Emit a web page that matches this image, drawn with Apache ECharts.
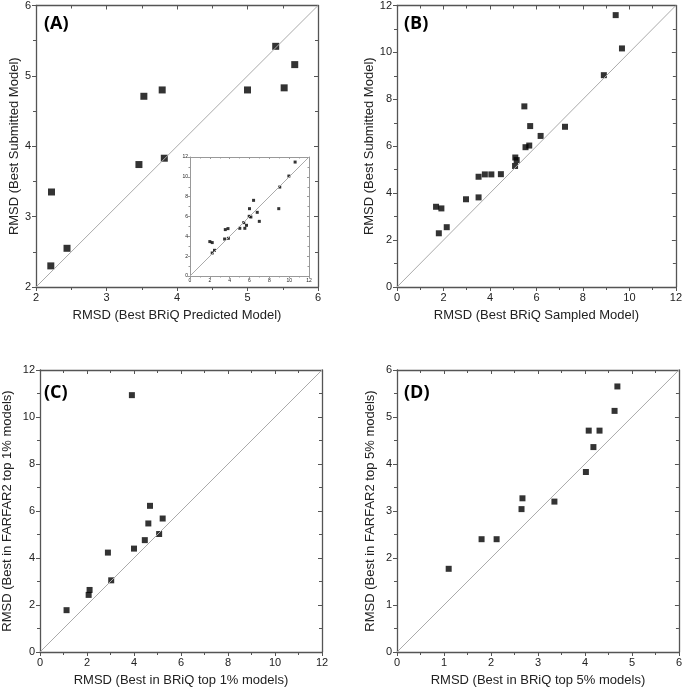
<!DOCTYPE html>
<html>
<head>
<meta charset="utf-8">
<script src="https://cdn.jsdelivr.net/npm/echarts@6/dist/echarts.min.js"></script>
<style>
  html, body { margin: 0; padding: 0; background: #fff; }
  #chart { width: 685px; height: 688px; }
</style>
</head>
<body>
<div id="chart"></div>
<script>
// (A) BRiQ predicted vs best submitted
const aX = [2.21, 2.22, 2.44, 3.46, 3.53, 3.79, 3.82, 5.00, 5.40, 5.52, 5.67];
const aY = [2.30, 3.35, 2.55, 3.74, 4.71, 4.80, 3.83, 4.80, 5.42, 4.83, 5.16];

// inset of (A), full range
const insetX = [10.6, 9.97, 9.05, 8.95, 6.41, 6.0, 5.97, 6.14, 6.78, 6.99, 5.42, 5.7, 5.53, 5.02, 3.56, 3.83, 3.49, 3.87, 2.0, 2.24, 2.47, 2.24];
const insetY = [11.49, 10.08, 8.97, 6.79, 7.63, 6.79, 6.02, 5.95, 6.42, 5.51, 5.38, 5.11, 4.81, 4.81, 4.68, 4.78, 3.73, 3.80, 3.47, 3.37, 2.59, 2.32];

// (B) BRiQ sampled vs best submitted
const bX = [1.68, 1.91, 1.80, 2.14, 2.97, 3.51, 3.51, 3.78, 4.06, 4.47, 5.08, 5.09, 5.15, 5.48, 5.53, 5.69, 5.73, 6.18, 7.23, 8.90, 9.41, 9.68];
const bY = [3.42, 3.35, 2.29, 2.55, 3.74, 3.82, 4.70, 4.80, 4.80, 4.81, 5.16, 5.52, 5.41, 7.70, 5.96, 6.03, 6.86, 6.44, 6.83, 9.03, 11.59, 10.17];

// (C) top 1% models
const cX = [1.13, 2.07, 2.11, 2.89, 3.03, 3.91, 4.00, 4.46, 4.61, 4.68, 5.07, 5.22];
const cY = [1.78, 2.43, 2.64, 4.23, 3.05, 10.93, 4.40, 4.76, 5.47, 6.22, 5.02, 5.68];

// (D) top 5% models
const dX = [1.10, 1.80, 2.12, 2.65, 2.67, 3.35, 4.02, 4.08, 4.18, 4.31, 4.63, 4.69];
const dY = [1.77, 2.40, 2.40, 3.04, 3.27, 3.20, 3.83, 4.71, 4.36, 4.71, 5.13, 5.65];

const panelLabels = ['(A)', '(B)', '(C)', '(D)'];
const xNames = ['RMSD (Best BRiQ Predicted Model)', 'RMSD (Best BRiQ Sampled Model)',
  'RMSD (Best in BRiQ top 1% models)', 'RMSD (Best in BRiQ top 5% models)'];
const yNames = ['RMSD (Best Submitted Model)', 'RMSD (Best Submitted Model)',
  'RMSD (Best in FARFAR2 top 1% models)', 'RMSD (Best in FARFAR2 top 5% models)'];
const ranges = [[2, 6, 1], [0, 12, 2], [0, 12, 2], [0, 6, 1], [0, 12, 2]];

const zip = (xs, ys) => xs.map((x, i) => [x, ys[i]]);
const pointSets = [zip(aX, aY), zip(bX, bY), zip(cX, cY), zip(dX, dY), zip(insetX, insetY)];

const grids = [
  { left: 36, top: 4, width: 282, height: 283 },
  { left: 397, top: 4, width: 283, height: 283 },
  { left: 39, top: 370, width: 283, height: 283 },
  { left: 397, top: 370, width: 283, height: 283 },
  { left: 190, top: 157, width: 119, height: 119 }
];
const yGaps = [12, 20, 26, 20];
const labelPos = [[44, 15], [404, 15], [44, 384], [404, 384]];

const font = '"Liberation Sans"';
const xAxis = [];
const yAxis = [];
const series = [];

grids.forEach((g, i) => {
  const small = i === 4;
  const [min, max, interval] = ranges[i];
  const lineColor = small ? '#999' : '#555';
  const base = {
    gridIndex: i, type: 'value', min, max, interval,
    splitLine: { show: false },
    axisLine: { onZero: false, lineStyle: { color: lineColor, width: small ? 1 : 1.3 } },
    minorTick: { show: true, splitNumber: 2, length: small ? 1.5 : 3, lineStyle: { color: lineColor } }
  };
  const labeled = {
    ...base,
    axisTick: { inside: false, length: small ? 2 : 4, lineStyle: { color: lineColor } },
    axisLabel: { color: '#222', fontSize: small ? 5 : 11, fontFamily: font, margin: small ? 2 : 5 }
  };
  const plain = {
    ...base,
    axisTick: { inside: true, length: small ? 2 : 4, lineStyle: { color: lineColor } },
    axisLabel: { show: false }
  };
  xAxis.push({
    ...labeled, position: 'bottom',
    name: small ? '' : xNames[i], nameLocation: 'middle', nameGap: 22,
    nameTextStyle: { color: '#222', fontSize: 13, fontFamily: font }
  });
  xAxis.push({ ...plain, position: 'top' });
  yAxis.push({
    ...labeled, position: 'left',
    name: small ? '' : yNames[i], nameLocation: 'middle', nameGap: small ? 0 : yGaps[i],
    nameTextStyle: { color: '#222', fontSize: 13, fontFamily: font }
  });
  yAxis.push({ ...plain, position: 'right' });

  series.push({
    type: 'line', xAxisIndex: 2 * i, yAxisIndex: 2 * i,
    data: [[min, min], [max, max]],
    symbol: 'none', silent: true,
    lineStyle: { color: '#aaa', width: 1 }
  });
  series.push({
    type: 'scatter', xAxisIndex: 2 * i, yAxisIndex: 2 * i,
    data: pointSets[i],
    symbol: 'rect', symbolSize: small ? 3 : (i === 0 ? 7 : 6),
    itemStyle: { color: '#000' }
  });
});

const chart = echarts.init(document.getElementById('chart'));
chart.setOption({
  animation: false,
  backgroundColor: '#fff',
  title: panelLabels.map((t, i) => ({
    text: t, left: labelPos[i][0], top: labelPos[i][1], padding: 0,
    textStyle: { fontSize: 18, fontWeight: 'bold', color: '#000', fontFamily: '"Open Sans"' }
  })),
  grid: grids,
  xAxis,
  yAxis,
  series
});
</script>
</body>
</html>
